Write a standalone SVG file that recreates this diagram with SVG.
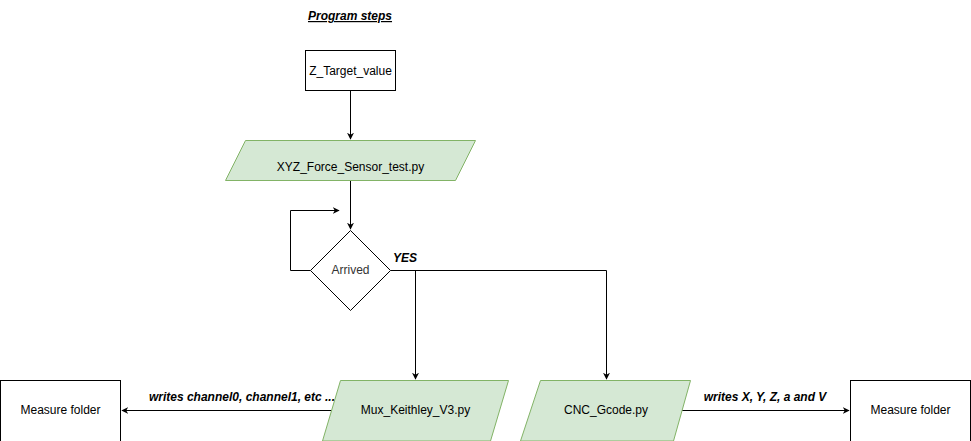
<svg xmlns="http://www.w3.org/2000/svg" width="971" height="441" viewBox="0 0 971 441">
<defs>
<marker id="arr" viewBox="0 0 10 10" refX="9" refY="5" markerWidth="7" markerHeight="7" orient="auto" markerUnits="userSpaceOnUse">
<path d="M0,0 L10,5 L0,10 L3,5 Z" fill="#000"/>
</marker>
<style>
text{font-family:"Liberation Sans",Arial,sans-serif;font-size:12px;fill:#000}
.lbl{font-weight:bold;font-style:italic}
.box{fill:#fff;stroke:#000;stroke-width:1}
.io{fill:#d5e8d4;stroke:#82b366;stroke-width:1}
.edge{fill:none;stroke:#000;stroke-width:1}
</style>
</defs>
<rect width="971" height="441" fill="#fff"/>
<text x="350" y="20" text-anchor="middle" class="lbl" text-decoration="underline">Program steps</text>
<g id="connectors">
<path class="edge" d="M350.5,90.5 V139" marker-end="url(#arr)"/>
<path class="edge" d="M350.5,180.5 V229" marker-end="url(#arr)"/>
<path class="edge" d="M310.5,270.5 H290.5 V210.5 H339" marker-end="url(#arr)"/>
<path class="edge" d="M390.5,270.5 H606.5 V379" marker-end="url(#arr)"/>
<path class="edge" d="M415.5,270.5 V379" marker-end="url(#arr)"/>
<path class="edge" d="M333,410.5 H122" marker-end="url(#arr)"/>
<path class="edge" d="M680,410.5 H849" marker-end="url(#arr)"/>
<text x="405" y="262" text-anchor="middle" class="lbl">YES</text>
<text x="335" y="401" text-anchor="end" class="lbl">writes channel0, channel1, etc ...</text>
<text x="765" y="401" text-anchor="middle" class="lbl">writes X, Y, Z, a and V</text>
</g>
<g id="z_target">
<rect class="box" x="305.5" y="50.5" width="90" height="40"/>
<text x="350.5" y="75" text-anchor="middle">Z_Target_value</text>
</g>
<g id="xyz_force">
<polygon class="io" points="245.5,140.5 475.5,140.5 455.5,180.5 225.5,180.5"/>
<text x="350.5" y="171" text-anchor="middle">XYZ_Force_Sensor_test.py</text>
</g>
<g id="arrived">
<polygon class="box" points="350.5,230.5 390.5,270.5 350.5,310.5 310.5,270.5"/>
<text x="350.5" y="274" text-anchor="middle" fill="#333" style="fill:#333">Arrived</text>
</g>
<g id="mux">
<polygon class="io" points="340.5,380.5 508.5,380.5 490.5,441 322.5,441"/>
<text x="415.5" y="414" text-anchor="middle">Mux_Keithley_V3.py</text>
</g>
<g id="cnc">
<polygon class="io" points="540.5,380.5 690.5,380.5 673.5,441 520.5,441"/>
<text x="606" y="414" text-anchor="middle">CNC_Gcode.py</text>
</g>
<g id="measure_left">
<rect class="box" x="0.5" y="380.5" width="120" height="70"/>
<text x="60.5" y="414" text-anchor="middle">Measure folder</text>
</g>
<g id="measure_right">
<rect class="box" x="850.5" y="380.5" width="120" height="70"/>
<text x="910.5" y="414" text-anchor="middle">Measure folder</text>
</g>
</svg>
